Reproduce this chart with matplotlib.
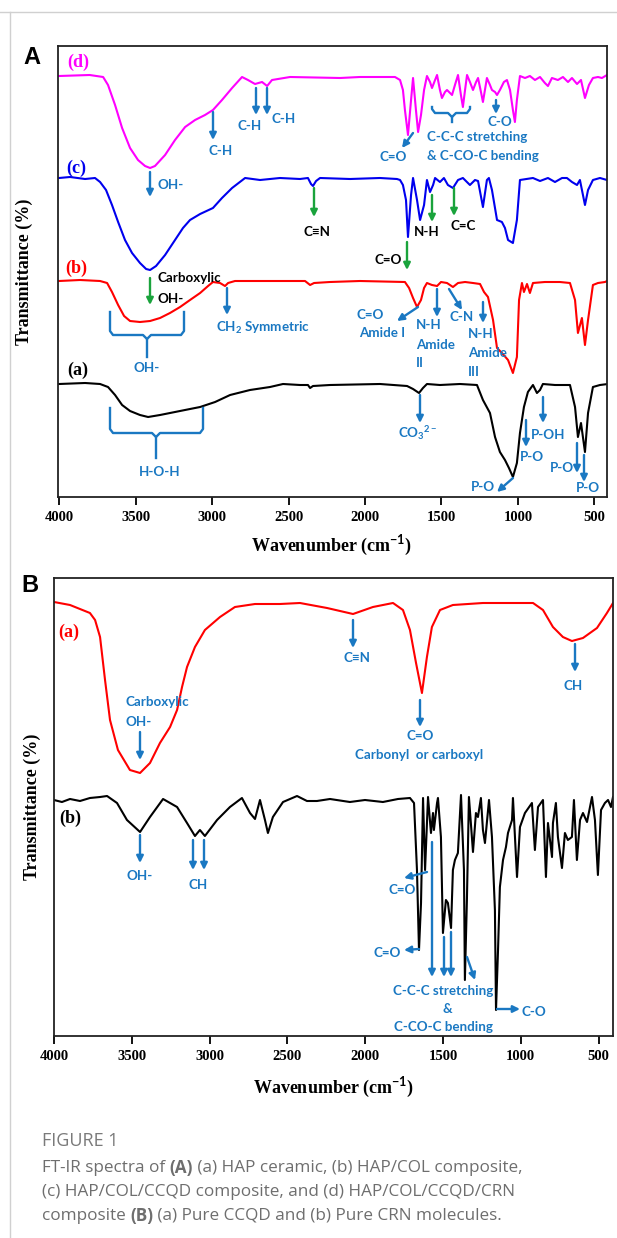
import numpy as np
import matplotlib.pyplot as plt
from matplotlib.transforms import Affine2D
from matplotlib.lines import Line2D

W, H = 617, 1238
BLUE = '#1a78c2'
GREEN = '#1aa33c'
GRAY = '#6e6e6e'

plt.rcParams['mathtext.fontset'] = 'custom'
plt.rcParams['mathtext.rm'] = 'Lato:bold'
plt.rcParams['mathtext.it'] = 'Lato:bold'
plt.rcParams['mathtext.bf'] = 'Lato:bold'

# ---------------- panel A spectra (wavenumber, transmittance a.u.) ----------------
wn_d = [4000, 3800, 3712, 3680, 3634, 3588, 3536, 3484, 3438, 3405, 3373, 3307, 3242, 3176, 3111, 3046,
        2994, 2935, 2869, 2804, 2765, 2719, 2673, 2640, 2608, 2490, 2163, 2033, 1804, 1771, 1752, 1739,
        1719, 1699, 1686, 1667, 1653, 1634, 1614, 1595, 1575, 1562, 1542, 1529, 1510, 1497, 1477, 1464,
        1444, 1431, 1412, 1392, 1373, 1360, 1346, 1333, 1314, 1294, 1274, 1261, 1242, 1229, 1216, 1203,
        1183, 1170, 1150, 1137, 1118, 1092, 1072, 1052, 1033, 1020, 1007, 987, 954, 922, 889, 856,
        824, 804, 778, 739, 706, 673, 647, 614, 588, 562, 536, 510, 477, 451, 418]
tr_d = [421, 422, 420, 412, 392, 369, 349, 337, 331, 329, 331, 342, 357, 370, 377, 382,
        387, 397, 409, 420, 417, 413, 415, 411, 417, 420, 419, 420, 420, 417, 407, 387,
        362, 397, 419, 387, 365, 382, 407, 421, 415, 409, 417, 422, 407, 399, 405, 407,
        404, 402, 412, 422, 402, 390, 407, 422, 415, 407, 415, 419, 405, 395, 407, 419,
        412, 407, 405, 402, 407, 415, 417, 407, 387, 375, 397, 421, 419, 421, 417, 420,
        414, 411, 419, 417, 420, 415, 419, 413, 417, 399, 412, 419, 420, 419, 422]

wn_c = [4000, 3928, 3830, 3765, 3732, 3693, 3654, 3614, 3569, 3523, 3471, 3431, 3405, 3366, 3307, 3242,
        3190, 3144, 3078, 2994, 2935, 2869, 2784, 2686, 2556, 2425, 2373, 2353, 2340, 2320, 2294, 2098,
        1902, 1791, 1771, 1752, 1732, 1719, 1699, 1686, 1660, 1640, 1614, 1595, 1575, 1555, 1542, 1510,
        1484, 1458, 1425, 1392, 1360, 1314, 1281, 1261, 1229, 1203, 1190, 1170, 1137, 1105, 1085, 1065,
        1033, 1007, 987, 902, 856, 804, 758, 712, 680, 647, 614, 595, 562, 542, 510, 464, 418]
tr_c = [319, 320, 318, 319, 315, 307, 292, 275, 257, 244, 234, 228, 227, 231, 242, 257,
        269, 277, 283, 289, 299, 309, 319, 317, 319, 318, 319, 313, 311, 316, 319, 318,
        319, 318, 317, 312, 297, 260, 302, 319, 297, 277, 292, 317, 305, 312, 319, 315,
        319, 312, 309, 317, 319, 312, 317, 316, 290, 317, 319, 307, 277, 275, 269, 257,
        254, 277, 317, 319, 316, 319, 315, 319, 319, 315, 312, 317, 292, 307, 317, 319, 317]

wn_b = [4000, 3863, 3732, 3686, 3654, 3614, 3575, 3536, 3471, 3405, 3340, 3275, 3209, 3144, 3078, 3026,
        2994, 2948, 2915, 2895, 2850, 2686, 2490, 2392, 2359, 2333, 2229, 2033, 1739, 1712, 1686, 1660,
        1634, 1614, 1595, 1562, 1529, 1503, 1464, 1425, 1392, 1346, 1294, 1248, 1222, 1196, 1163, 1137,
        1105, 1065, 1033, 1007, 993, 974, 961, 941, 922, 902, 824, 726, 660, 627, 608, 582,
        562, 542, 510, 477, 431, 418]
tr_b = [216, 217, 216, 214, 205, 192, 181, 176, 175, 176, 179, 184, 190, 197, 204, 211,
        215, 214, 211, 214, 216, 216, 216, 216, 212, 214, 215, 216, 215, 209, 199, 190,
        197, 209, 214, 212, 211, 215, 214, 210, 214, 215, 214, 213, 205, 200, 177, 149,
        144, 137, 124, 140, 197, 214, 205, 213, 204, 214, 215, 215, 214, 197, 164, 179,
        152, 177, 212, 214, 215, 216]

wn_a = [4000, 3830, 3732, 3680, 3634, 3588, 3536, 3471, 3418, 3340, 3242, 3144, 3078, 2980, 2882, 2752,
        2621, 2536, 2425, 2373, 2359, 2340, 2229, 1902, 1725, 1686, 1647, 1621, 1595, 1510, 1379, 1268,
        1229, 1183, 1150, 1118, 1085, 1059, 1033, 1007, 987, 961, 935, 902, 876, 856, 837, 758,
        660, 627, 608, 588, 562, 542, 510, 464, 412]
tr_a = [113, 114, 113, 110, 102, 92, 86, 82, 80, 82, 85, 88, 90, 95, 102, 107,
        110, 113, 112, 112, 109, 111, 112, 113, 111, 108, 104, 109, 113, 112, 113, 112,
        97, 84, 60, 45, 37, 29, 20, 34, 64, 90, 105, 112, 104, 107, 113, 112,
        112, 90, 60, 74, 45, 84, 110, 112, 113]

# ---------------- panel B spectra ----------------
wn_ccqd = [4000, 3897, 3769, 3736, 3704, 3672, 3640, 3589, 3512, 3447, 3383, 3319, 3254, 3209, 3177, 3145,
           3094, 3030, 2933, 2837, 2708, 2548, 2419, 2245, 2078, 1950, 1821, 1757, 1712, 1673, 1635, 1603,
           1571, 1519, 1436, 1243, 921, 857, 793, 729, 671, 600, 510, 446, 407]
tr_ccqd = [434, 431, 423, 416, 399, 356, 316, 286, 266, 263, 273, 293, 309, 326, 349, 369,
           389, 406, 419, 429, 432, 432, 433, 428, 422, 429, 433, 426, 406, 373, 343, 379,
           409, 426, 431, 433, 433, 426, 409, 399, 395, 398, 408, 423, 433]

wn_crn = [4000, 3949, 3897, 3833, 3769, 3704, 3659, 3595, 3531, 3447, 3383, 3299, 3209, 3145, 3094, 3062,
          3030, 2952, 2869, 2792, 2740, 2708, 2676, 2644, 2625, 2593, 2528, 2438, 2374, 2310, 2226, 2098,
          2001, 1886, 1789, 1712, 1686, 1667, 1654, 1641, 1628, 1615, 1596, 1577, 1564, 1558, 1538, 1532,
          1513, 1500, 1481, 1468, 1448, 1436, 1423, 1404, 1384, 1365, 1359, 1346, 1333, 1314, 1307, 1288,
          1275, 1256, 1243, 1230, 1204, 1185, 1166, 1159, 1146, 1134, 1114, 1095, 1082, 1056, 1050, 1024,
          1005, 973, 928, 909, 889, 857, 838, 825, 799, 793, 774, 761, 735, 716, 697, 671,
          658, 639, 619, 600, 574, 542, 523, 504, 484, 459, 439, 420, 407]
tr_crn = [236, 234, 237, 235, 238, 239, 240, 233, 216, 204, 219, 237, 229, 213, 200, 206,
          200, 216, 229, 238, 223, 217, 236, 216, 203, 219, 234, 240, 235, 235, 237, 234,
          236, 234, 237, 238, 233, 166, 86, 133, 238, 166, 239, 203, 223, 206, 233, 238,
          199, 103, 136, 133, 108, 166, 176, 183, 241, 166, 56, 136, 239, 199, 184, 223,
          219, 238, 206, 193, 236, 199, 126, 26, 86, 149, 176, 189, 203, 216, 238, 159,
          209, 223, 233, 186, 229, 236, 159, 213, 179, 213, 233, 199, 168, 203, 196, 199,
          236, 176, 216, 223, 214, 239, 216, 161, 226, 233, 236, 229, 239]

xticks = [4000, 3500, 3000, 2500, 2000, 1500, 1000, 500]

fig = plt.figure(figsize=(W / 100, H / 100), dpi=100)
pix = Affine2D().scale(1, -1).translate(0, H)


def make_axes(l, r, t, b, xlim, ylim):
    ax = fig.add_axes([l / W, 1 - b / H, (r - l) / W, (b - t) / H])
    ax.set_xlim(*xlim)
    ax.set_ylim(*ylim)
    ax.set_yticks([])
    ax.set_xticks(xticks)
    ax.tick_params(axis='x', direction='out', length=6, width=1.3, pad=4)
    for lab in ax.get_xticklabels():
        lab.set_fontfamily('Liberation Serif')
        lab.set_fontweight('bold')
        lab.set_fontsize(10.5)
    for s in ax.spines.values():
        s.set_linewidth(1.3)
        s.set_color('#222222')
    return ax


axA = make_axes(58, 607, 46, 497, (4007, 418), (0, 451))
axA.plot(wn_d, tr_d, color='#ff00ff', lw=1.5)
axA.plot(wn_c, tr_c, color='#0000ee', lw=1.5)
axA.plot(wn_b, tr_b, color='#ff0000', lw=1.5)
axA.plot(wn_a, tr_a, color='black', lw=1.5)

axB = make_axes(54, 613, 578, 1036, (4000, 407), (0, 458))
axB.plot(wn_ccqd, tr_ccqd, color='#ff0000', lw=1.5)
axB.plot(wn_crn, tr_crn, color='black', lw=1.5)


def txt(x, y, s, color=BLUE, ha='center', size=9.6):
    fig.text(x, y, s, transform=pix, color=color, ha=ha, va='center',
             family='Lato', fontweight='bold', fontsize=size)


def arrow(p0, p1, color=BLUE):
    fig.add_artist(plt.Annotation('', xy=p1, xytext=p0, xycoords=pix, textcoords=pix,
                                  arrowprops=dict(arrowstyle='-|>', color=color, lw=1.7,
                                                  mutation_scale=10, shrinkA=0, shrinkB=0)))


def brace(x0, x1, top, bar, xc, stem):
    xs = [x0, x0, x0 + 3, xc - 4, xc, xc + 4, x1 - 3, x1, x1]
    ys = [top, bar - 4, bar, bar, bar + 4, bar, bar, bar - 4, top]
    fig.add_artist(Line2D(xs, ys, transform=pix, color=BLUE, lw=1.7))
    fig.add_artist(Line2D([xc, xc], [bar + 4, stem], transform=pix, color=BLUE, lw=1.7))


# curve labels
for x, y, s, c in [(78, 62, '(d)', '#ff00ff'), (76, 168, '(c)', '#0000ee'), (76, 268, '(b)', '#ff0000'),
                   (78, 370, '(a)', 'black'), (69, 632, '(a)', '#ff0000'), (70, 818, '(b)', 'black')]:
    fig.text(x, y, s, transform=pix, color=c, ha='center', va='center',
             family='Liberation Serif', fontweight='bold', fontsize=13)

# panel A annotations
for p0, p1, c in [((213, 112), (213, 140), BLUE), ((256, 88), (256, 115), BLUE), ((267, 88), (267, 115), BLUE),
                  ((150, 172), (150, 197), BLUE), ((314, 188), (314, 217), GREEN), ((413, 133), (402, 148), BLUE),
                  ((496, 100), (496, 114), BLUE), ((407, 242), (407, 270), GREEN), ((432, 195), (432, 222), GREEN),
                  ((454, 188), (454, 216), GREEN), ((150, 278), (150, 305), GREEN), ((227, 288), (227, 315), BLUE),
                  ((418, 307), (397, 321), BLUE), ((437, 289), (437, 317), BLUE), ((449, 289), (462, 310), BLUE),
                  ((483, 302), (483, 323), BLUE), ((420, 395), (420, 423), BLUE), ((543, 397), (543, 423), BLUE),
                  ((526, 420), (526, 447), BLUE), ((513, 478), (497, 492), BLUE), ((577, 443), (577, 473), BLUE),
                  ((584, 455), (584, 482), BLUE)]:
    arrow(p0, p1, c)

for a in [(221, 151, 'C-H'), (250, 126, 'C-H'), (284, 119, 'C-H'), (157, 185, 'OH-', BLUE, 'left'),
          (317, 232, 'C≡N', 'black'), (393, 157, 'C=O'), (427, 137, 'C-C-C stretching', BLUE, 'left'),
          (427, 156, '& C-CO-C bending', BLUE, 'left'), (500, 122, 'C-O'), (388, 260, 'C=O', 'black'),
          (427, 232, 'N-H', 'black'), (463, 226, 'C=C', 'black'), (157, 278, 'Carboxylic', 'black', 'left'),
          (157, 299, 'OH-', 'black', 'left'), (147, 368, 'OH-'), (216, 328, 'CH$_2$ Symmetric', BLUE, 'left'),
          (160, 472, 'H-O-H'), (370, 315, 'C=O'), (382, 333, 'Amide I'),
          (416, 325, 'N-H', BLUE, 'left'), (416, 345, 'Amide', BLUE, 'left'), (416, 363, 'II', BLUE, 'left'),
          (462, 317, 'C-N'), (468, 334, 'N-H', BLUE, 'left'), (468, 353, 'Amide', BLUE, 'left'),
          (468, 372, 'III', BLUE, 'left'), (418, 433, 'CO$_3$$^{2-}$'), (548, 435, 'P-OH'), (532, 457, 'P-O'),
          (483, 487, 'P-O'), (562, 468, 'P-O'), (588, 488, 'P-O')]:
    txt(*a)

brace(110, 184, 312, 335, 147, 357)
brace(110, 203, 408, 433, 156, 458)
brace(432, 470, 107, 113, 452, 122)

# panel B annotations
for p0, p1 in [((140, 732), (140, 760)), ((353, 620), (353, 648)), ((420, 700), (420, 727)),
               ((575, 644), (575, 672)), ((140, 835), (140, 863)), ((193, 840), (193, 870)),
               ((204, 840), (204, 870)), ((427, 872), (404, 878)), ((419, 949), (404, 950)),
               ((432, 842), (432, 977)), ((444, 937), (444, 977)), ((451, 932), (451, 977)),
               ((467, 957), (475, 980)), ((497, 1009), (520, 1009))]:
    arrow(p0, p1)

for a in [(125, 702, 'Carboxylic', BLUE, 'left'), (125, 722, 'OH-', BLUE, 'left'), (357, 658, 'C≡N'),
          (420, 736, 'C=O'), (419, 755, 'Carbonyl  or carboxyl'), (573, 686, 'CH'), (140, 876, 'OH-'),
          (198, 885, 'CH'), (402, 890, 'C=O'), (387, 953, 'C=O'), (443, 991, 'C-C-C stretching'),
          (447, 1009, '&'), (444, 1027, 'C-CO-C bending'), (522, 1012, 'C-O', BLUE, 'left')]:
    txt(*a)

# panel letters, axis titles
fig.text(32, 58, 'A', transform=pix, ha='center', va='center', family='Liberation Sans',
         fontweight='bold', fontsize=17)
fig.text(30, 586, 'B', transform=pix, ha='center', va='center', family='Liberation Sans',
         fontweight='bold', fontsize=17)
for x, y in [(24, 272), (32, 807)]:
    fig.text(x, y, 'Transmittance (%)', transform=pix, rotation=90, ha='center', va='center',
             family='Liberation Serif', fontweight='bold', fontsize=13)
for x, y in [(332, 545), (334, 1087)]:
    fig.text(x, y, 'Wavenumber (cm$^{\\mathbf{-1}}$)', transform=pix, ha='center', va='center',
             family='Liberation Serif', fontweight='bold', fontsize=13)

# page frame lines
fig.add_artist(Line2D([0, W], [12, 12], transform=pix, color='#d0d0d0', lw=1))
fig.add_artist(Line2D([10, 10], [12, H], transform=pix, color='#d0d0d0', lw=1))

# caption
fig.text(42, 1141, 'FIGURE 1', transform=pix, ha='left', va='center', family='Open Sans',
         fontsize=13, color='#7a7a7a')
rend = fig.canvas.get_renderer()
caption = [
    (1168, [('FT-IR spectra of ', 'normal'), ('(A)', 'bold'), (' (a) HAP ceramic, (b) HAP/COL composite,', 'normal')]),
    (1192, [('(c) HAP/COL/CCQD composite, and (d) HAP/COL/CCQD/CRN', 'normal')]),
    (1216, [('composite ', 'normal'), ('(B)', 'bold'), (' (a) Pure CCQD and (b) Pure CRN molecules.', 'normal')]),
]
for y, segs in caption:
    x = 42
    for s, wt in segs:
        t = fig.text(x, y, s, transform=pix, ha='left', va='center', family='Open Sans',
                     fontsize=12.3, fontweight=wt, color=GRAY)
        x += t.get_window_extent(rend).width

fig.savefig('out.png', dpi=100)
